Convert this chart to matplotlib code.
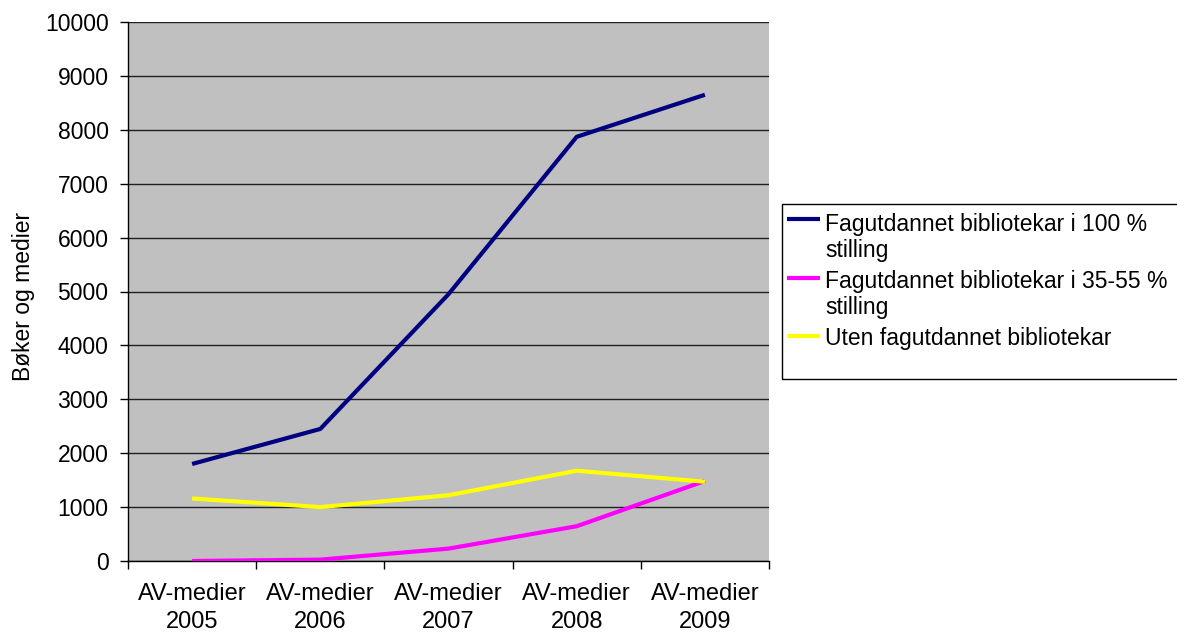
import matplotlib
matplotlib.use("Agg")
import matplotlib.pyplot as plt
from matplotlib.patches import Rectangle
from matplotlib.lines import Line2D
import numpy as np

plt.rcParams['font.family'] = ['Liberation Sans', 'DejaVu Sans']

categories = ["AV-medier\n2005", "AV-medier\n2006", "AV-medier\n2007", "AV-medier\n2008", "AV-medier\n2009"]
full_time = [1800, 2450, 4950, 7870, 8650]
part_time = [0, 25, 230, 645, 1485]
no_librarian = [1160, 1000, 1220, 1675, 1470]
series_names = ["Fagutdannet bibliotekar i 100 %\nstilling",
                "Fagutdannet bibliotekar i 35-55 %\nstilling",
                "Uten fagutdannet bibliotekar"]
colors = ["#000080", "#FF00FF", "#FFFF00"]
FS = 16.5
W, H = 1177, 634

fig = plt.figure(figsize=(11.77, 6.34), dpi=100)
ax = fig.add_axes([128/W, 1-561/H, (769-128)/W, (561-22)/H])
ax.set_facecolor("#C0C0C0")

x = np.arange(len(categories))
lines = []
for vals, c, n in zip([full_time, part_time, no_librarian], colors, series_names):
    l, = ax.plot(x, vals, color=c, lw=3.0, label=n, solid_capstyle='butt', zorder=3)
    lines.append(l)

ax.set_xlim(-0.5, len(categories) - 0.5)
ax.set_ylim(0, 10000)
ax.set_yticks(np.arange(0, 10001, 1000))
ax.yaxis.grid(True, color="#202020", lw=1)
ax.set_axisbelow(True)
ax.set_xticks(np.arange(-0.5, len(categories), 1))
ax.set_xticklabels([])
ax.set_xticks(x, minor=True)
ax.set_xticklabels(categories, minor=True, fontsize=17, linespacing=1.32)
ax.tick_params(axis='x', which='minor', length=0, pad=16)
ax.tick_params(axis='x', which='major', length=6, width=1, direction='out')
ax.tick_params(axis='y', length=6, width=1, direction='out', labelsize=FS, pad=8)
for s in ['top', 'right']:
    ax.spines[s].set_visible(False)
for s in ['left', 'bottom']:
    ax.spines[s].set_color('black')
    ax.spines[s].set_linewidth(1)
ax.set_ylabel("Bøker og medier", fontsize=FS)
ax.yaxis.set_label_coords((35-128)/641, 0.49)

# legend box
fig.patches.append(Rectangle((782/W, 1-379/H), 420/W, 175/H,
                             transform=fig.transFigure, fill=False, ec='black', lw=1))
entry_tops = [223, 280, 337]
handle_y = [219, 278, 336]
for l, ty, hy in zip(lines, entry_tops, handle_y):
    fig.lines.append(Line2D([787/W, 820/W], [1-hy/H, 1-hy/H], transform=fig.transFigure,
                            color=l.get_color(), lw=3.0, solid_capstyle='butt'))
    for i, part in enumerate(l.get_label().split("\n")):
        base = ty + 8 + i * 26
        fig.text(825/W, 1-base/H, part, fontsize=FS, va='baseline', ha='left')

fig.savefig("out.png", dpi=100)
